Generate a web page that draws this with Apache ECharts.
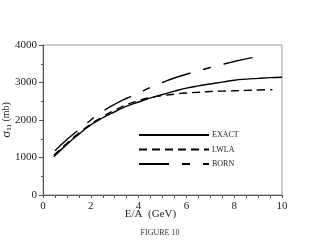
<!DOCTYPE html>
<html><head><meta charset="utf-8">
<script src="https://cdn.jsdelivr.net/npm/echarts@6/dist/echarts.min.js"></script>
<style>html,body{margin:0;padding:0;background:#fff}#c{width:320px;height:245px}</style>
</head><body><div id="c"></div>
<script>
var exactE = [0.45,1,1.5,2,2.5,3,3.5,4,4.5,5,5.5,6,6.5,7,7.5,8,8.5,9,9.5,10];
var exactV = [1020,1350,1620,1870,2060,2220,2370,2480,2590,2680,2770,2850,2910,2960,3010,3060,3090,3110,3130,3140];
var lwlaE = [0.45,1,1.5,2,2.5,3,3.5,4,4.5,5,5.5,6,6.5,7,7.5,8,8.5,9,9.6];
var lwlaV = [1060,1380,1650,1890,2090,2260,2410,2520,2600,2650,2690,2720,2740,2760,2770,2780,2790,2800,2810];
var bornE = [0.5,1,1.5,2,2.5,3,3.5,4,4.5,5,5.5,6,6.5,7,7.5,8,8.5,9,9.3];
var bornV = [1180,1480,1740,2000,2230,2420,2580,2720,2870,3000,3120,3220,3310,3400,3480,3560,3630,3690,3730];
var seriesNames = ['EXACT','LWLA','BORN'];
var xTitle = 'E/A  (GeV)';
var footer = 'FIGURE 10';

function pairs(e, v){ return e.map(function(x,i){ return [x, v[i]]; }); }
var font = 'Liberation Serif, Times New Roman, serif';
var chart = echarts.init(document.getElementById('c'), null, {renderer:'canvas'});
var lineBase = function(name, e, v, type){
  return {name:name, type:'line', data:pairs(e,v), smooth:true, symbol:'none', showSymbol:false,
    lineStyle:{color:'#000', width:1.4, type:type}, itemStyle:{color:'#000'}};
};
chart.setOption({
  animation:false,
  grid:{left:43, right:38, top:45, bottom:50, containLabel:false, outerBoundsMode:'none', show:true, borderColor:'#999', borderWidth:1},
  xAxis:{type:'value', min:0, max:10, interval:2,
    axisLine:{lineStyle:{color:'#555'}},
    axisTick:{show:true, inside:false, length:3, lineStyle:{color:'#555'}},
    minorTick:{show:true, splitNumber:4, length:3, lineStyle:{color:'#555'}},
    splitLine:{show:false},
    axisLabel:{color:'#222', fontFamily:font, fontSize:11, margin:6, formatter:function(v){return String(v);}},
    name:xTitle, nameLocation:'middle', nameGap:14, nameMoveOverlap:false,
    nameTextStyle:{color:'#222', fontFamily:font, fontSize:11, padding:[0,24,0,0]}
  },
  yAxis:{type:'value', min:0, max:4000, interval:1000,
    axisLine:{show:true, lineStyle:{color:'#555'}},
    axisTick:{show:true, length:4, lineStyle:{color:'#555'}},
    minorTick:{show:true, splitNumber:2, length:2, lineStyle:{color:'#555'}},
    splitLine:{show:false},
    axisLabel:{color:'#222', fontFamily:font, fontSize:11, margin:6, formatter:function(v){return String(v);}},
    name:'{s|σ}{sub|11} (mb)', nameLocation:'middle', nameGap:30, nameMoveOverlap:false,
    nameTextStyle:{color:'#222', fontFamily:font, fontSize:10,
      rich:{s:{fontFamily:font, fontSize:13, color:'#222'}, sub:{fontFamily:font, fontSize:7, color:'#222', verticalAlign:'bottom', padding:[6,0,0,0]}}}
  },
  legend:{orient:'vertical', left:138, top:131, padding:0, itemWidth:70, itemHeight:8, itemGap:6.5,
    data:seriesNames,
    itemStyle:{color:'rgba(0,0,0,0)', borderWidth:0},
    textStyle:{fontFamily:font, fontSize:8, color:'#222', padding:[0,0,0,-2]}},
  graphic:[{type:'text', left:'center', top:229, style:{text:footer, font:'8px '+font, fill:'#333'}}],
  series:[
    lineBase(seriesNames[0], exactE, exactV, 'solid'),
    lineBase(seriesNames[1], lwlaE, lwlaV, [8,5]),
    lineBase(seriesNames[2], bornE, bornV, [30,13,8,13])
  ]
});
</script></body></html>
